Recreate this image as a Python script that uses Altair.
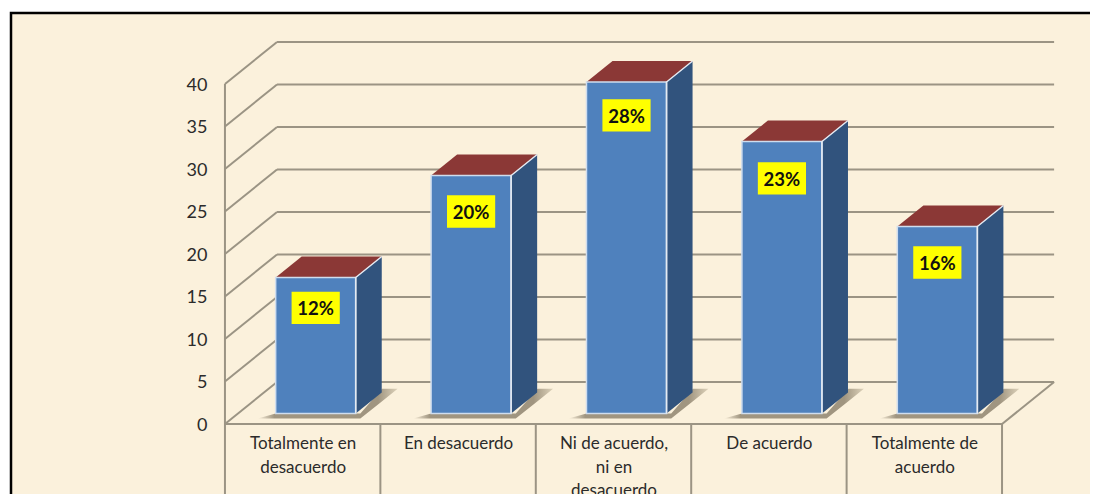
import json
import altair as alt
import pandas as pd

categories = [["Totalmente en", "desacuerdo"], ["En desacuerdo"], ["Ni de acuerdo,", "ni en", "desacuerdo"],
              ["De acuerdo"], ["Totalmente de", "acuerdo"]]
values = [16, 28, 39, 32, 22]
percent_labels = ["12%", "20%", "28%", "23%", "16%"]
percent_label_levels = [13.65, 25.0, 36.3, 28.9, 19.0]
y_ticks = [0, 5, 10, 15, 20, 25, 30, 35, 40]
boundaries = [0, 1, 2, 3, 4, 5]

WALL_X, WALL_Y = 0.335, 4.94      # depth of the 3-D box in data units
BAR_W = 0.515
XD = [-1.396, 5.566]
YD = [-8.235, 48.94]
BG = "#FBF1DC"
LINE = "#9B9484"
FONT = "Lato"

label_expr = json.dumps(categories) + "[floor(datum.value)]"
x_axis = alt.Axis(values=[i + 0.5 for i in range(5)], labelExpr=label_expr, offset=-70, tickSize=0, domain=False,
                  grid=False, labelPadding=11.5, labelFont=FONT, labelFontSize=17, labelColor="#2b2b2b",
                  labelLineHeight=23.5, labelOverlap=False, labelFlush=False, labelBound=False,
                  labelAngle=0, labelBaseline="top", zindex=1, title=None)
y_axis = alt.Axis(values=y_ticks, offset=-199, tickSize=0, domain=False, grid=False, labelPadding=0,
                  labelFont=FONT, labelFontSize=18, labelColor="#2b2b2b", labelOffset=1.5,
                  labelOverlap=False, labelFlush=False, labelBound=False, zindex=1, title=None)

def X(field):
    return alt.X(field, type="quantitative", scale=alt.Scale(domain=XD, nice=False, zero=False),
                 axis=x_axis, title=None)

def Y(field):
    return alt.Y(field, type="quantitative", scale=alt.Scale(domain=YD, nice=False, zero=False),
                 axis=y_axis, title=None)

# ---- tables built from the lists above
grid = pd.DataFrame([{"t": t, "a": 0 + WALL_X, "b": 5 + WALL_X, "yb": t + WALL_Y} for t in y_ticks])
diag = pd.DataFrame([r for t in y_ticks for r in ({"t": t, "x": 0, "y": t}, {"t": t, "x": WALL_X, "y": t + WALL_Y})])
floor_edge = pd.DataFrame([{"x": 5, "y": 0}, {"x": 5 + WALL_X, "y": WALL_Y}])
front_edge = pd.DataFrame([{"x": 0, "x2": 5, "y": 0}])
left_wall = pd.DataFrame([{"x": 0, "y": 0, "y2": y_ticks[-1]}])
seps = pd.DataFrame({"x": boundaries, "y": [0] * len(boundaries)})

front, sides, tops, shadows, edges, boxes = [], [], [], [], [], []
BASE = WALL_Y * 0.25
DX, DY = WALL_X * 0.5, WALL_Y * 0.5
for i, v in enumerate(values):
    cx = i + 0.5 + WALL_X * 0.25
    x0, x1 = cx - BAR_W / 2, cx + BAR_W / 2
    top = v + BASE
    front.append({"i": i, "x0": x0, "x1": x1, "y0": BASE, "y1": top})
    sides += [{"i": i, "x": x1, "lo": BASE, "hi": top}, {"i": i, "x": x1 + DX, "lo": BASE + DY, "hi": top + DY}]
    tops += [{"i": i, "x": x0, "lo": top, "hi": top},
             {"i": i, "x": x0 + DX, "lo": top, "hi": top + DY},
             {"i": i, "x": x1, "lo": top, "hi": top + DY},
             {"i": i, "x": x1 + DX, "lo": top + DY, "hi": top + DY}]
    L, T = BASE - 0.6, BASE + 2.9
    frac = 0.14 / 0.24
    shadows += [{"i": i, "x": x0 - 0.116, "lo": L, "hi": L},
                {"i": i, "x": x0, "lo": L, "hi": BASE},
                {"i": i, "x": x1 + 0.03, "lo": L, "hi": BASE},
                {"i": i, "x": x1 + 0.17, "lo": L + (T - L) * frac, "hi": T},
                {"i": i, "x": x1 + 0.27, "lo": T, "hi": T}]
    edges += [{"i": i, "x": x1, "y": BASE}, {"i": i, "x": x1, "y": top},
              {"i": i, "x": x1 + DX, "y": top + DY}]
    boxes.append({"t": percent_labels[i], "c": cx, "x0": cx - 0.155, "x1": cx + 0.155,
                  "y": percent_label_levels[i], "y0": percent_label_levels[i] - 1.9,
                  "y1": percent_label_levels[i] + 1.9})
front, sides, tops, shadows, edges, boxes = map(pd.DataFrame, (front, sides, tops, shadows, edges, boxes))

panel = alt.Chart(pd.DataFrame({"p": [0]})).mark_rect(fill=BG, stroke="#000000", strokeWidth=2.5, clip=True).encode(
    x=alt.value(3), x2=alt.value(1300), y=alt.value(5), y2=alt.value(800))

line_kw = dict(color=LINE, strokeWidth=2, clip=True)
grid_l = alt.Chart(grid).mark_rule(**line_kw).encode(x=X("a"), x2="b", y=Y("yb"))
diag_l = alt.Chart(diag).mark_line(**line_kw).encode(x=X("x"), y=Y("y"), detail="t:N")
floor_l = alt.Chart(floor_edge).mark_line(**line_kw).encode(x=X("x"), y=Y("y"))
front_l = alt.Chart(front_edge).mark_rule(**line_kw).encode(x=X("x"), x2="x2", y=Y("y"))
wall_l = alt.Chart(left_wall).mark_rule(**line_kw).encode(x=X("x"), y=Y("y"), y2="y2")
sep_l = alt.Chart(seps).mark_rule(**line_kw).encode(x=X("x"), y=Y("y"), y2=alt.value(800))

shadow_fill = alt.Gradient(gradient="linear", x1=0, y1=0, x2=1, y2=0,
                           stops=[alt.GradientStop(color=BG, offset=0),
                                  alt.GradientStop(color="#A09580", offset=0.12),
                                  alt.GradientStop(color="#A09580", offset=0.86),
                                  alt.GradientStop(color="#DDD2BA", offset=1)])
shadow_l = alt.Chart(shadows).mark_area(color=shadow_fill, orient="vertical").encode(
    x=X("x"), y=Y("hi"), y2="lo", detail="i:N")
side_l = alt.Chart(sides).mark_area(color="#31537D", orient="vertical").encode(
    x=X("x"), y=Y("hi"), y2="lo", detail="i:N")
top_l = alt.Chart(tops).mark_area(color="#8B3836", orient="vertical").encode(
    x=X("x"), y=Y("hi"), y2="lo", detail="i:N")
front_b = alt.Chart(front).mark_rect(fill="#4F81BD", stroke="#CFDDEE", strokeWidth=1.5).encode(
    x=X("x0"), x2="x1", y=Y("y0"), y2="y1")
edge_l = alt.Chart(edges).mark_line(color="#E4EAF2", strokeWidth=1.5).encode(
    x=X("x"), y=Y("y"), detail="i:N", order="y:Q")
box_l = alt.Chart(boxes).mark_rect(fill="#FFFF00").encode(x=X("x0"), x2="x1", y=Y("y0"), y2="y1")
text_l = alt.Chart(boxes).mark_text(font=FONT, fontWeight="bold", fontSize=18.5, color="#111111", baseline="middle", dy=1.5).encode(
    x=X("c"), y=Y("y"), text="t:N")

chart = alt.layer(panel, grid_l, diag_l, floor_l, wall_l, sep_l, shadow_l, front_l, side_l, top_l, front_b, edge_l,
                  box_l, text_l).properties(
    width=1082, height=486, padding=0, background="#FFFFFF",
    autosize=alt.AutoSizeParams(type="none"),
).configure_view(stroke=None)

chart.save("out.html", embed_options={"renderer": "svg", "actions": False})
